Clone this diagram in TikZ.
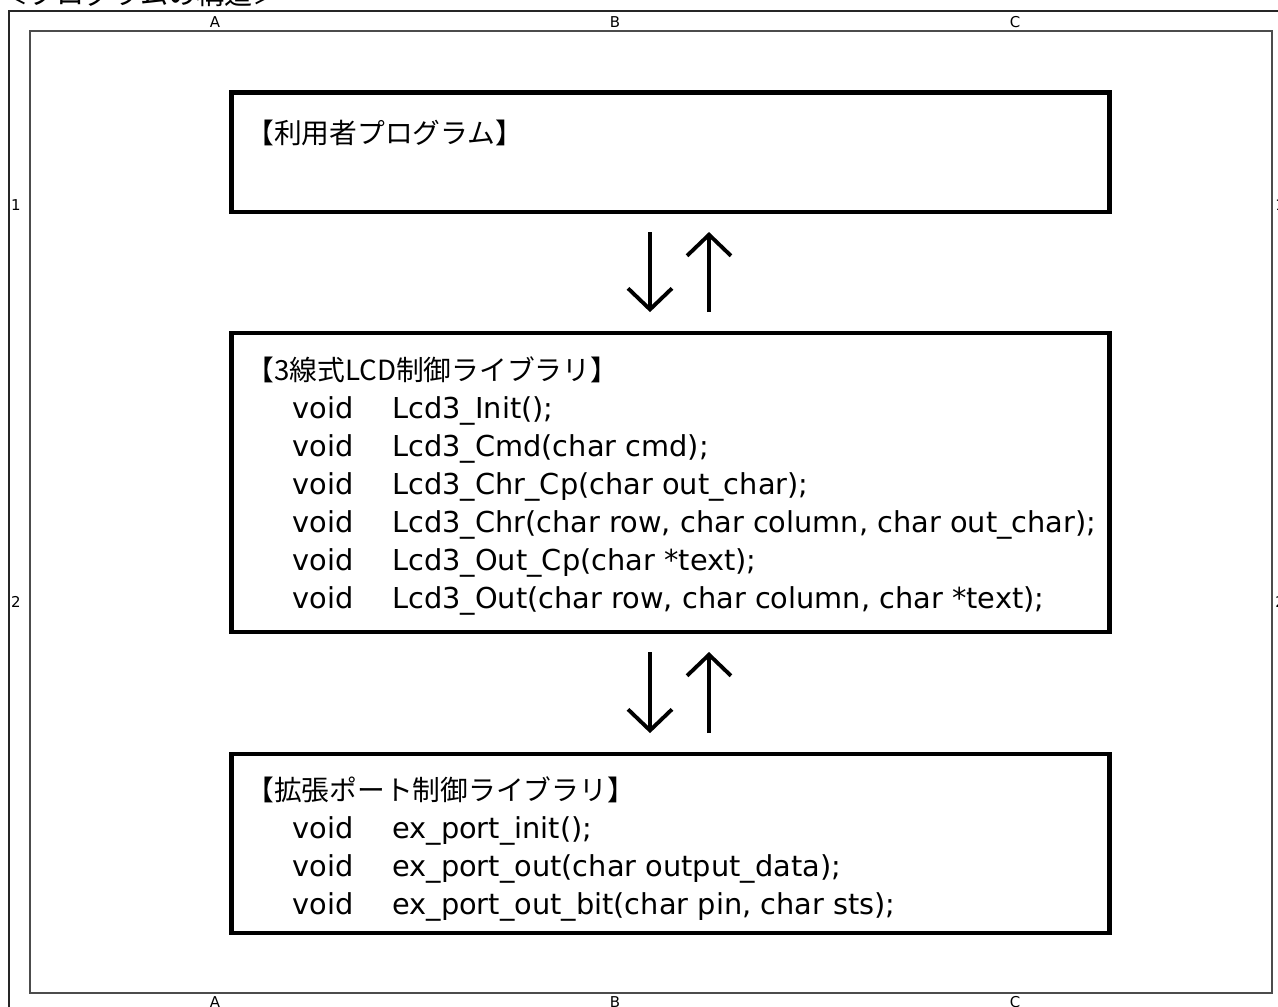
\documentclass[tikz,border=0pt]{standalone}
\usepackage{fontspec}
\setmainfont{DejaVu Sans}
\newfontfamily\jpfont{Noto Sans CJK JP}
\usetikzlibrary{arrows.meta}
\begin{document}
\begin{tikzpicture}[x=0.02cm,y=-0.02cm,
  box/.style={draw=black, line width=2.8pt, minimum width=17.58cm, inner sep=0pt},
  outerframe/.style={draw=black!85, line width=0.9pt},
  innerframe/.style={draw=black!70, line width=0.9pt},
  code/.style={anchor=base west, inner sep=0pt, font=\fontsize{16.4pt}{19pt}\selectfont},
  head/.style={anchor=west, inner sep=0pt, font=\jpfont\fontsize{15.8pt}{18pt}\selectfont},
  lbl/.style={inner sep=0pt, font=\fontsize{8.5pt}{9pt}\selectfont},
  flow/.style={line width=2.2pt, -{Straight Barb[length=12pt,width=25pt]}}]
\useasboundingbox (0,0) rectangle (1278,1007);
\fill[white] (0,0) rectangle (1278,1007);
% title (cut off by the page top, as in the reference)
\node[anchor=base west, inner sep=0pt, font=\jpfont\fontsize{16pt}{18pt}\selectfont] (title) at (0,5) {＜プログラムの構造＞};
% frames
\draw[outerframe] (9,11) rectangle (1300,1030);
\draw[innerframe] (30,31) rectangle (1272,993);
% grid labels
\node[lbl] (ta) at (215,22) {A};
\node[lbl] (tb) at (615,22) {B};
\node[lbl] (tc) at (1015,22) {C};
\node[lbl] (ba) at (215,1002) {A};
\node[lbl] (bb) at (615,1002) {B};
\node[lbl] (bc) at (1015,1002) {C};
\node[lbl] (l1) at (16,205) {1};
\node[lbl] (l2) at (16,602) {2};
\node[lbl] (r1) at (1280,205) {1};
\node[lbl] (r2) at (1280,602) {2};
% boxes
\node[box, minimum height=2.39cm] (b1) at (670.5,152.25) {};
\node[box, minimum height=5.98cm] (b2) at (670.5,482.5) {};
\node[box, minimum height=3.58cm] (b3) at (670.5,843.5) {};
% box 1
\node[head] (h1) at (246,133) {【利用者プログラム】};
% box 2
\node[head] (h2) at (246,370) {【3線式LCD制御ライブラリ】};
\node[code] (c21) at (292,418) {\makebox[2cm][l]{void}Lcd3\_Init();};
\node[code] (c22) at (292,456) {\makebox[2cm][l]{void}Lcd3\_Cmd(char cmd);};
\node[code] (c23) at (292,494) {\makebox[2cm][l]{void}Lcd3\_Chr\_Cp(char out\_char);};
\node[code] (c24) at (292,532) {\makebox[2cm][l]{void}Lcd3\_Chr(char row, char column, char out\_char);};
\node[code] (c25) at (292,570) {\makebox[2cm][l]{void}Lcd3\_Out\_Cp(char *text);};
\node[code] (c26) at (292,608) {\makebox[2cm][l]{void}Lcd3\_Out(char row, char column, char *text);};
% box 3
\node[head] (h3) at (246,790) {【拡張ポート制御ライブラリ】};
\node[code] (c31) at (292,838) {\makebox[2cm][l]{void}ex\_port\_init();};
\node[code] (c32) at (292,876) {\makebox[2cm][l]{void}ex\_port\_out(char output\_data);};
\node[code] (c33) at (292,914) {\makebox[2cm][l]{void}ex\_port\_out\_bit(char pin, char sts);};
% arrows
\coordinate (dn) at (650,0);
\coordinate (up) at (709,0);
\draw[flow, shorten <=10pt, shorten >=10.5pt] (b1.south -| dn) -- (b2.north -| dn);
\draw[flow, shorten <=10.5pt, shorten >=10pt] (b2.north -| up) -- (b1.south -| up);
\draw[flow, shorten <=10pt, shorten >=10.5pt] (b2.south -| dn) -- (b3.north -| dn);
\draw[flow, shorten <=10.5pt, shorten >=10pt] (b3.north -| up) -- (b2.south -| up);
\end{tikzpicture}
\end{document}
